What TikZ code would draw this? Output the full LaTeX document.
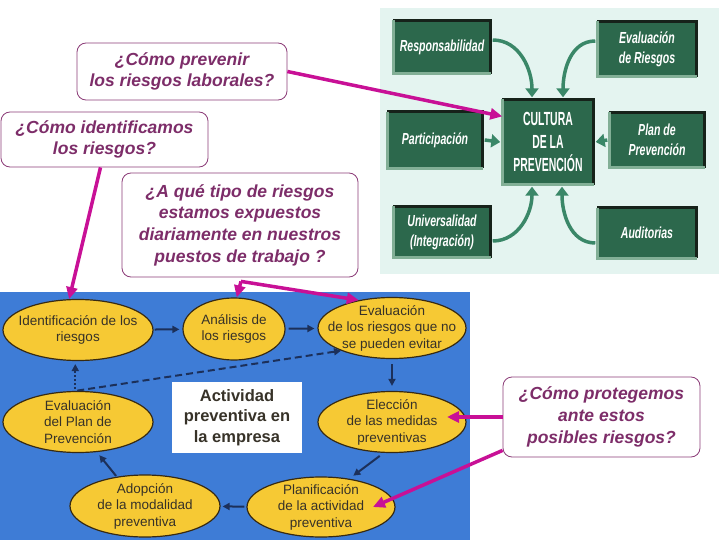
\documentclass[tikz,border=0pt]{standalone}
\usepackage{fontspec}
\setmainfont{Liberation Sans}
\newfontfamily\narrowfont{Liberation Sans}[FakeStretch=0.66]
\newfontfamily\cultfont{Liberation Sans}[FakeStretch=0.55]
\usetikzlibrary{shapes.geometric,arrows.meta,calc}
\definecolor{mint}{RGB}{228,244,240}
\definecolor{bluep}{RGB}{62,124,214}
\definecolor{ggreen}{RGB}{44,104,76}
\definecolor{gdark}{RGB}{22,34,26}
\definecolor{glight}{RGB}{130,175,150}
\definecolor{garrow}{RGB}{58,135,104}
\definecolor{eyellow}{RGB}{246,201,52}
\definecolor{eborder}{RGB}{55,42,18}
\definecolor{etext}{RGB}{55,50,40}
\definecolor{navy}{RGB}{28,48,90}
\definecolor{mag}{RGB}{200,16,150}
\definecolor{qtext}{RGB}{125,45,105}
\definecolor{qborder}{RGB}{140,60,120}
\newcommand\bevelbox[1]{%
  \draw[gdark,line width=3pt] (#1.north west) -- (#1.north east) -- (#1.south east);
  \draw[glight,line width=3pt] (#1.north west) -- (#1.south west) -- (#1.south east);}
\begin{document}
\begin{tikzpicture}[x=1pt,y=-1pt,
  gbox/.style={rectangle,fill=ggreen,text=white,align=center,inner sep=1pt,
    font=\narrowfont\bfseries\itshape\fontsize{16}{20}\selectfont},
  cultbox/.style={font=\cultfont\bfseries\fontsize{19}{23}\selectfont},
  gar/.style={draw=garrow,line width=3.5pt,-{Triangle[length=9pt,width=13pt]}},
  ell/.style={ellipse,draw=eborder,fill=eyellow,line width=1.2pt,inner sep=0pt},
  etxt/.style={align=center,text=etext,inner sep=0pt,font=\fontsize{13.5}{16.5}\selectfont},
  nar/.style={draw=navy,line width=2pt,-{Triangle[length=7pt,width=7pt]}},
  qbox/.style={rectangle,draw=qborder,rounded corners=9pt,line width=0.8pt,fill=white,
    align=center,text=qtext,inner sep=2pt,font=\bfseries\itshape\fontsize{17.5}{21.7}\selectfont},
  mar/.style={draw=mag,line width=3.5pt,line join=round,-{Triangle[length=12pt,width=11pt]}}]
\useasboundingbox (0,0) rectangle (720,540);
\fill[white] (0,0) rectangle (720,540);
\fill[mint] (380,8) rectangle (719,274);
\fill[bluep] (0,292) rectangle (470,540);

% green panel
\node[gbox, minimum width=97pt, minimum height=53pt] (resp) at (442,47) {Responsabilidad};
\node[gbox, minimum width=99pt, minimum height=55pt] (evr) at (647,49) {Evaluación\\de Riesgos};
\node[gbox, cultbox, minimum width=91pt, minimum height=85pt] (cult) at (548,142) {CULTURA\\DE LA\\PREVENCIÓN};
\node[gbox, minimum width=95pt, minimum height=56pt] (part) at (435,140) {Participación};
\node[gbox, minimum width=95pt, minimum height=55pt] (plan) at (657,140) {Plan de\\Prevención};
\node[gbox, minimum width=97pt, minimum height=51pt] (univ) at (442,232) {Universalidad\\(Integración)};
\node[gbox, minimum width=99pt, minimum height=50pt] (aud) at (647,233) {Auditorias};
\bevelbox{resp}\bevelbox{evr}\bevelbox{cult}\bevelbox{part}\bevelbox{plan}\bevelbox{univ}\bevelbox{aud}

\draw[gar] ($(resp.east)+(2,-7)$) to[out=0,in=90] ($(cult.north)+(-16,-2)$);
\draw[gar] ($(evr.west)+(-2,-8)$) to[out=180,in=90] ($(cult.north)+(15,-2)$);
\draw[gar] ($(univ.east)+(2,9)$) to[out=0,in=-90] ($(cult.south)+(-16,2)$);
\draw[gar] ($(aud.west)+(-2,10)$) to[out=180,in=-90] ($(cult.south)+(14,2)$);
\draw[gar] ($(part.east)+(2,0)$) -- ($(cult.west)+(-2,0)$);
\draw[gar] ($(plan.west)+(-2,0)$) -- ($(cult.east)+(2,0)$);

% blue panel
\node[fill=white, minimum width=130pt, minimum height=71pt, align=center, text=etext,
  font=\bfseries\fontsize{16.5}{20.5}\selectfont] (act) at (237,417.5) {Actividad\\preventiva en\\la empresa};

\node[ell, minimum width=150pt, minimum height=61pt] (ident) at (78,330) {};
\node[etxt] at (ident) {Identificación de los\\riesgos};
\node[ell, minimum width=102pt, minimum height=62pt] (anal) at (234,329) {};
\node[etxt] at (anal) {Análisis de\\los riesgos};
\node[ell, minimum width=148pt, minimum height=61pt] (evl) at (392,328) {};
\node[etxt] at (evl) {Evaluación\\de los riesgos que no\\se pueden evitar};
\node[ell, minimum width=150pt, minimum height=61pt] (evp) at (78,422) {};
\node[etxt] at (evp) {Evaluación\\del Plan de\\Prevención};
\node[ell, minimum width=148pt, minimum height=61pt] (elec) at (392,422) {};
\node[etxt] at (elec) {Elección\\de las medidas\\preventivas};
\node[ell, minimum width=150pt, minimum height=62pt] (adop) at (145,506) {};
\node[etxt] at (adop) {Adopción\\de la modalidad\\preventiva};
\node[ell, minimum width=148pt, minimum height=60pt] (planif) at (321,507) {};
\node[etxt] at (planif) {Planificación\\de la actividad\\preventiva};

\draw[nar, shorten <=1pt, shorten >=3pt] (ident) -- (anal);
\draw[nar, shorten <=3pt, shorten >=3pt] (anal) -- (evl);
\draw[nar, shorten <=5pt, shorten >=5pt] (evl) -- (elec);
\draw[nar, shorten <=5pt, shorten >=5pt] (elec.-105) -- (planif.45);
\draw[nar, shorten <=2pt, shorten >=2pt] (planif) -- (adop);
\draw[nar, shorten <=1pt, shorten >=4pt] (adop.134) -- (evp.-58);
\draw[nar, dotted, shorten <=2pt, shorten >=3pt] (evp.95) -- (ident.265);
\draw[nar, dash pattern=on 7pt off 4pt, shorten <=2pt] (evp.95) -- (evl.204);

% questions
\node[qbox, minimum width=210pt, minimum height=57pt] (q1) at (182,71.5) {¿Cómo prevenir\\los riesgos laborales?};
\node[qbox, minimum width=207pt, minimum height=55pt] (q2) at (104.5,139.5) {¿Cómo identificamos\\los riesgos?};
\node[qbox, minimum width=236pt, minimum height=104pt] (q3) at (240,225) {¿A qué tipo de riesgos\\estamos expuestos\\diariamente en nuestros\\puestos de trabajo ?};
\node[qbox, minimum width=197pt, minimum height=80pt] (q4) at (601.5,417) {¿Cómo protegemos\\ante estos\\posibles riesgos?};

\draw[mar] (q1.east) -- ($(cult.north west)!0.2!(cult.south west)$);
\draw[mar] ($(q2.south)+(-4,0)$) -- (ident.106);
\coordinate (br) at ($(q3.south)+(1,4)$);
\draw[mar] (br) -- (anal.85);
\draw[mar] (br) -- (evl.140);
\draw[mar] (q4.west) -- ($(elec.center)+(55,-5)$);
\draw[mar] ($(q4.south west)+(0,-7)$) -- ($(planif.center)+(52,0)$);
\end{tikzpicture}
\end{document}
